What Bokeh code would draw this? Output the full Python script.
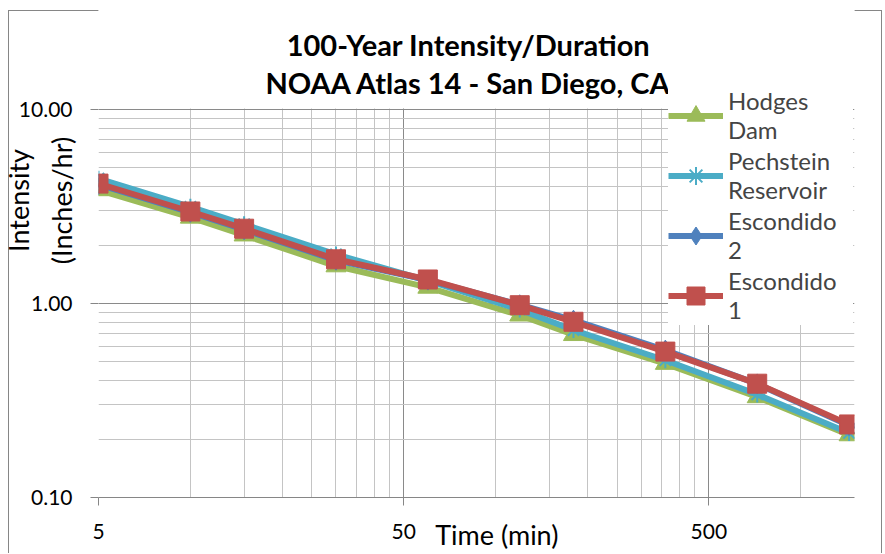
from bokeh.plotting import figure
from bokeh.models import (Range1d, FixedTicker, CustomJSTickFormatter, Legend,
                          LegendItem, Label, BoxAnnotation, LogAxis)
from bokeh.embed import file_html
from bokeh.resources import INLINE

# ---- data ----
durations = [5, 10, 15, 30, 60, 120, 180, 360, 720, 1440]
hodges_dam = [3.85, 2.78, 2.25, 1.56, 1.21, 0.87, 0.69, 0.49, 0.33, 0.21]
pechstein = [4.40, 3.15, 2.56, 1.79, 1.31, 0.93, 0.73, 0.51, 0.34, 0.215]
escondido_2 = [4.10, 2.95, 2.40, 1.67, 1.32, 0.985, 0.82, 0.575, 0.385, 0.235]
escondido_1 = [4.15, 2.98, 2.43, 1.69, 1.33, 0.98, 0.805, 0.565, 0.386, 0.238]

x_major = [5, 50, 500]
x_minor = [10, 15, 20, 25, 30, 35, 40, 45,
           100, 150, 200, 250, 300, 350, 400, 450,
           1000, 1500]
y_major = [0.1, 1, 10]
y_minor = [0.2, 0.3, 0.4, 0.5, 0.6, 0.7, 0.8, 0.9,
           2, 3, 4, 5, 6, 7, 8, 9]

FONT = "Lato"
EDGE = "#868686"

# The frame reaches above the top of the page (negative margin) so that the
# title and legend are drawn inside it and the y title is centred where the
# reference has it; the part above 10 is masked white.
p = figure(x_axis_type="log", y_axis_type="log",
           x_range=Range1d(5, 1500), y_range=Range1d(0.1, 115.3),
           frame_width=756, frame_height=594,
           min_border_left=115, min_border_right=28,
           min_border_top=0, min_border_bottom=56,
           output_backend="svg", toolbar_location=None,
           background_fill_color="white", border_fill_color="white",
           border_fill_alpha=0.0)
p.outline_line_color = None
# chart-area border drawn as thin background lines of the host element
p.styles = {
    "margin-left": "-17px",
    "margin-top": "-97px",
    "background-image": ("linear-gradient(#868686,#868686), "
                         "linear-gradient(#868686,#868686), "
                         "linear-gradient(#868686,#868686)"),
    "background-size": ("1px calc(100% - 107px), calc(100% - 25px) 1px, "
                        "1px calc(100% - 107px)"),
    "background-position": "25px 107px, 25px 107px, right 0px top 107px",
    "background-repeat": "no-repeat",
}

p.xaxis.ticker = FixedTicker(ticks=x_major, minor_ticks=x_minor)
p.yaxis.ticker = FixedTicker(ticks=y_major, minor_ticks=y_minor)
p.xaxis.formatter = CustomJSTickFormatter(code="return String(Math.round(tick));")
p.yaxis.formatter = CustomJSTickFormatter(code="return Number(tick).toFixed(2);")

for ax in (p.xaxis[0], p.yaxis[0]):
    ax.axis_line_color = EDGE
    ax.major_tick_line_color = EDGE
    ax.major_tick_out = 8
    ax.major_tick_in = 0
    ax.minor_tick_out = 0
    ax.minor_tick_in = 0
    ax.major_label_text_font = FONT
    ax.major_label_text_font_size = "21px"
    ax.major_label_text_color = "black"
    ax.axis_label_text_font = FONT
    ax.axis_label_text_font_style = "normal"
    ax.axis_label_text_color = "black"
p.yaxis.axis_line_color = None
p.yaxis.major_label_standoff = 18
p.xaxis.major_label_standoff = 18

p.yaxis.axis_label = "(Inches/hr)"
p.yaxis.axis_label_text_font_size = "27px"
p.yaxis.axis_label_standoff = -62

# outer left axis carrying only the first line of the y title
outer = LogAxis(ticker=FixedTicker(ticks=[]), axis_label="Intensity",
                axis_line_color=None, major_tick_out=0, major_tick_in=0,
                minor_tick_out=0, minor_tick_in=0, major_label_standoff=0,
                axis_label_standoff=7, axis_label_text_font=FONT,
                axis_label_text_font_size="27px",
                axis_label_text_font_style="normal",
                axis_label_text_color="black")
p.add_layout(outer, "left")

p.xaxis.axis_label = "\u00a0" * 6 + "Time (min)"
p.xaxis.axis_label_text_font_size = "27px"
p.xaxis.axis_label_standoff = -24

for g in (p.xgrid[0], p.ygrid[0]):
    g.grid_line_color = "#8a8a8a"
    g.grid_line_width = 1
    g.minor_grid_line_color = "#c4c4c4"
    g.minor_grid_line_width = 1

# white mask over the part of the frame above the plot area
p.add_layout(BoxAnnotation(bottom=10.13, fill_color="white", fill_alpha=1.0,
                           line_color=None, level="glyph"))

series = [
    ("Hodges\nDam", hodges_dam, "#9BBB59", "triangle", 20),
    ("Pechstein\nReservoir", pechstein, "#4BACC6", "asterisk", 16),
    ("Escondido\n2", escondido_2, "#4F81BD", "diamond", 20),
    ("Escondido\n1", escondido_1, "#C0504D", "square", 19),
]

items = []
for label, vals, color, marker, size in series:
    lr = p.line(durations, vals, line_color=color, line_width=6, line_join="round")
    if marker == "asterisk":
        sr = p.scatter(durations, vals, marker=marker, size=size,
                       line_color=color, line_width=2)
    else:
        sr = p.scatter(durations, vals, marker=marker, size=size,
                       fill_color=color, line_color=color, line_width=1)
    items.append(LegendItem(label=label, renderers=[lr, sr]))

legend = Legend(items=items, location=(570, 172),
                label_text_font=FONT, label_text_font_size="24px",
                label_text_line_height=1.45, label_height=60, label_width=125,
                glyph_width=55, glyph_height=45, label_standoff=5,
                spacing=0, padding=1, margin=0,
                border_line_color=None, background_fill_color="white",
                background_fill_alpha=1.0)
p.add_layout(legend)

title = Label(x=370, y=434, x_units="screen", y_units="screen",
              text="100-Year Intensity/Duration\nNOAA Atlas 14 - San Diego, CA",
              text_font=FONT, text_font_style="bold", text_font_size="29px",
              text_align="center", text_baseline="middle", text_line_height=1.09,
              text_color="black", level="overlay")
p.add_layout(title)

open("out.html", "w").write(file_html(p, INLINE))
